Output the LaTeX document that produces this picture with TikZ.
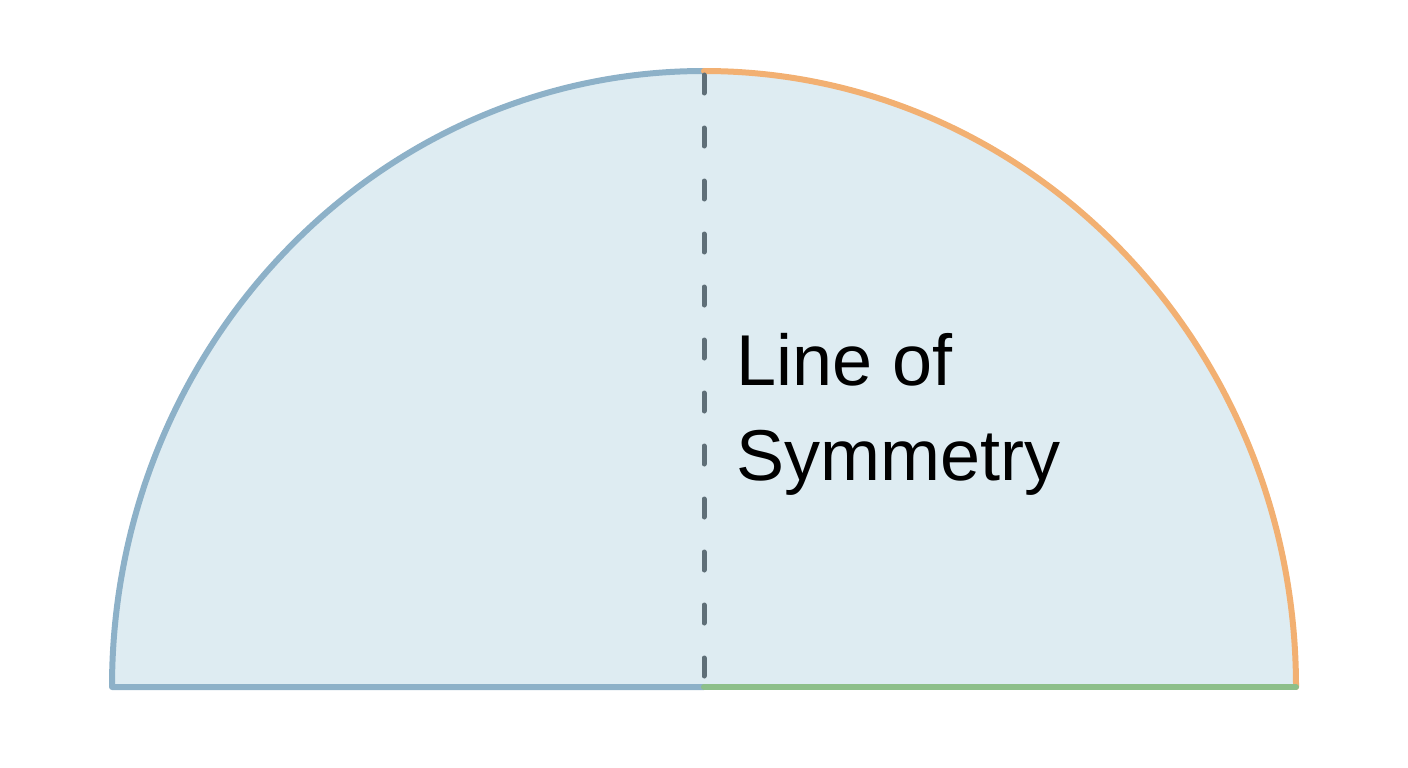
\documentclass[tikz,border=0pt]{standalone}
\usepackage{fontspec}
\setmainfont{Liberation Sans}
\definecolor{fillb}{HTML}{DEECF2}
\definecolor{leftc}{HTML}{8DB1C8}
\definecolor{rightc}{HTML}{F2B072}
\definecolor{greenc}{HTML}{8DBF8A}
\definecolor{dashc}{HTML}{5F6F78}
\begin{document}
\begin{tikzpicture}[x=1pt,y=-1pt,edge/.style={line width=6pt,line cap=round,line join=round}]
\useasboundingbox (0,0) rectangle (1408,768);
\coordinate (c) at (704,687);
\coordinate (l) at (112,687);
\coordinate (r) at (1296,687);
\coordinate (t) at (704,71);
\fill[fillb] (l) arc[start angle=180,end angle=0,x radius=592,y radius=-616] -- cycle;
\draw[edge,leftc] (c) -- (l) arc[start angle=180,end angle=90,x radius=592,y radius=-616];
\draw[edge,rightc] (t) arc[start angle=90,end angle=0,x radius=592,y radius=-616];
\draw[edge,greenc] (c) -- (r);
\draw[dashc,line width=5pt,line cap=round,dash pattern=on 18pt off 35pt] (t) ++(0,4) -- (c);
\node[anchor=north west,align=left,font=\fontsize{72}{95}\selectfont,inner sep=0pt] (lab) at (736,333) {Line of\\Symmetry};
\end{tikzpicture}
\end{document}
